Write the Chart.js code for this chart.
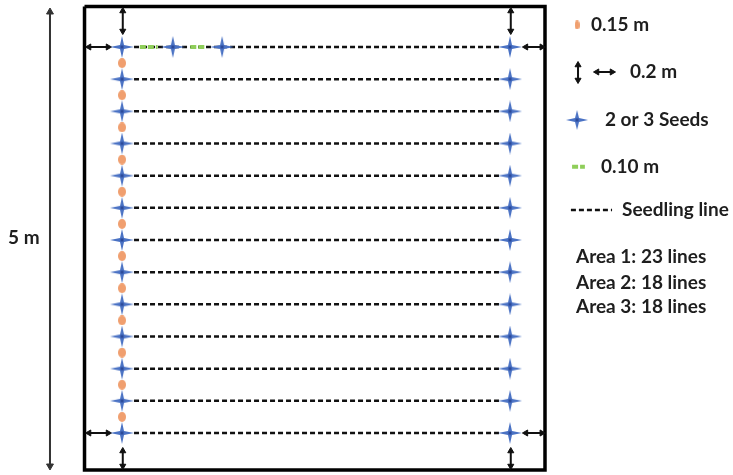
<!DOCTYPE html>
<html><head><meta charset="utf-8">
<script src="https://cdn.jsdelivr.net/npm/chart.js@4/dist/chart.umd.min.js"></script>
<style>html,body{margin:0;padding:0;background:#fff;}#wrap{width:733px;height:475px;}</style>
</head><body><div id="wrap"><canvas id="c" width="733" height="475"></canvas></div>
<script>
// ---- Data (x: fraction across plot between left and right seed columns; y: seedling row index) ----
const rowIndex = [0,1,2,3,4,5,6,7,8,9,10,11,12];
const seedColumns = [0, 1];
const firstRowExtraSeeds = [0.131, 0.258];
const orangeSpacingRows = [0.5,1.5,2.5,3.5,4.5,5.5,6.5,7.5,8.5,9.5,10.5,11.5];
const greenSpacingSegments = [[0.046,0.092],[0.176,0.216]];
const seedlingLineSpan = [0.031, 0.974];
const plotFrameX = [-0.0966, 1.0902];
const plotFrameY = [-1.259, 13.15];
const verticalMarginArrowsTop = [-1.119, -0.497];
const verticalMarginArrowsBottom = [12.56, 13.026];
const horizontalMarginArrowsLeft = [-0.085, -0.036];
const horizontalMarginArrowsRight = [1.041, 1.082];
const plotLengthArrow = {x: -0.1856, y: [-1.088, 13.026], label: '5 m'};
const legendLabels = ['0.15 m', '0.2 m', '2 or 3 Seeds', '0.10 m', 'Seedling line'];
const areaLabels = ['Area 1: 23 lines', 'Area 2: 18 lines', 'Area 3: 18 lines'];
const legendRows = [-0.684, 0.777, 2.269, 3.72, 5.067];
const areaRows = [6.519, 7.327, 8.073];

// ---- point styles ----
function starCanvas(w, h, color) {
  const c = document.createElement('canvas'); c.width = w; c.height = h;
  const g = c.getContext('2d'); const cx = w/2, cy = h/2;
  g.fillStyle = color; g.beginPath();
  g.moveTo(cx, 0); g.lineTo(cx+2, cy-2); g.lineTo(w, cy); g.lineTo(cx+2, cy+2);
  g.lineTo(cx, h); g.lineTo(cx-2, cy+2); g.lineTo(0, cy); g.lineTo(cx-2, cy-2); g.closePath(); g.fill();
  g.fillStyle = 'rgba(40,70,150,0.9)'; g.fillRect(cx-1.5, cy-1.5, 3, 3);
  return c;
}
function ellipseCanvas(w, h, color) {
  const c = document.createElement('canvas'); c.width = w; c.height = h;
  const g = c.getContext('2d'); g.fillStyle = color;
  g.beginPath(); g.ellipse(w/2, h/2, w/2, h/2, 0, 0, Math.PI*2); g.fill();
  return c;
}
const seedStar = starCanvas(24, 22, '#4a72c4');
const seedStarSmall = starCanvas(22, 20, '#4a72c4');
const orangeDot = ellipseCanvas(8, 10, 'rgba(236,135,75,0.8)');

// ---- build datasets ----
const datasets = [];
const seedPts = [];
rowIndex.forEach(r => seedColumns.forEach(u => seedPts.push({x: u, y: r})));
firstRowExtraSeeds.forEach(u => seedPts.push({x: u, y: rowIndex[0]}));
datasets.push({data: seedPts, pointStyle: seedStar, pointRadius: 11, showLine: false, order: 1});
datasets.push({data: [{x: 1.1727, y: legendRows[2]}], pointStyle: seedStarSmall, pointRadius: 10, showLine: false, order: 1});
datasets.push({data: orangeSpacingRows.map(r => ({x: seedColumns[0], y: r})), pointStyle: orangeDot, pointRadius: 5, showLine: false, order: 2});
datasets.push({data: [{x: 1.1727, y: legendRows[0]}], pointStyle: ellipseCanvas(5, 9, 'rgba(236,135,75,0.8)'), pointRadius: 5, showLine: false, order: 2});
greenSpacingSegments.forEach(s => datasets.push({data: [{x: s[0], y: rowIndex[0]}, {x: s[1], y: rowIndex[0]}], showLine: true, borderColor: '#8fce5a', borderWidth: 4, borderDash: [6, 2], pointRadius: 0, order: 3}));
datasets.push({data: [{x: 1.160, y: legendRows[3]}, {x: 1.193, y: legendRows[3]}], showLine: true, borderColor: '#8fce5a', borderWidth: 4, borderDash: [6, 2], pointRadius: 0, order: 3});
rowIndex.forEach(r => datasets.push({data: [{x: seedlingLineSpan[0], y: r}, {x: seedlingLineSpan[1], y: r}], showLine: true, borderColor: '#111', borderWidth: 2.5, borderDash: [5, 3], pointRadius: 0, order: 5}));
datasets.push({data: [{x: 1.157, y: legendRows[4]}, {x: 1.263, y: legendRows[4]}], showLine: true, borderColor: '#111', borderWidth: 2.5, borderDash: [5, 3], pointRadius: 0, order: 5});
datasets.push({data: [{x: plotFrameX[0], y: plotFrameY[0]}, {x: plotFrameX[1], y: plotFrameY[0]}, {x: plotFrameX[1], y: plotFrameY[1]}, {x: plotFrameX[0], y: plotFrameY[1]}, {x: plotFrameX[0], y: plotFrameY[0]}], showLine: true, borderColor: '#000', borderWidth: 3.5, pointRadius: 0, order: 6});
function arrow(x1, y1, x2, y2, vertical, color, w, rad) {
  datasets.push({data: [{x: x1, y: y1}, {x: x2, y: y2}], showLine: true, borderColor: color, borderWidth: w,
    pointStyle: 'triangle', pointRadius: rad, pointBackgroundColor: color, pointBorderColor: color, pointBorderWidth: 1,
    pointRotation: vertical ? [0, 180] : [270, 90], order: 4});
}
seedColumns.forEach(u => {
  arrow(u + 0.002, verticalMarginArrowsTop[0], u + 0.002, verticalMarginArrowsTop[1], true, '#111', 2, 3.5);
  arrow(u + 0.002, verticalMarginArrowsBottom[0], u + 0.002, verticalMarginArrowsBottom[1], true, '#111', 2, 3.5);
});
[rowIndex[0], rowIndex[rowIndex.length-1]].forEach(r => {
  arrow(horizontalMarginArrowsLeft[0], r, horizontalMarginArrowsLeft[1], r, false, '#111', 2, 3.5);
  arrow(horizontalMarginArrowsRight[0], r, horizontalMarginArrowsRight[1], r, false, '#111', 2, 3.5);
});
arrow(plotLengthArrow.x, plotLengthArrow.y[0], plotLengthArrow.x, plotLengthArrow.y[1], true, '#333', 2, 4);
arrow(1.1753, 0.56, 1.1753, 1.026, true, '#111', 2, 3.5);
arrow(1.2242, legendRows[1], 1.2629, legendRows[1], false, '#111', 2, 3.5);

const textItems = [
  {t: plotLengthArrow.label, x: -0.2938, y: 5.938},
  {t: legendLabels[0], x: 1.2088, y: legendRows[0]},
  {t: legendLabels[1], x: 1.3093, y: legendRows[1]},
  {t: legendLabels[2], x: 1.2448, y: legendRows[2]},
  {t: legendLabels[3], x: 1.2345, y: legendRows[3]},
  {t: legendLabels[4], x: 1.2887, y: legendRows[4]},
  {t: areaLabels[0], x: 1.170, y: areaRows[0]},
  {t: areaLabels[1], x: 1.170, y: areaRows[1]},
  {t: areaLabels[2], x: 1.170, y: areaRows[2]},
];
const textPlugin = {
  id: 'texts',
  afterDraw(chart) {
    const ctx = chart.ctx, xs = chart.scales.x, ys = chart.scales.y;
    ctx.save();
    ctx.font = 'bold 19px Lato, "Open Sans", sans-serif';
    ctx.fillStyle = '#1e1e1e'; ctx.textBaseline = 'middle'; ctx.textAlign = 'left';
    textItems.forEach(it => ctx.fillText(it.t, xs.getPixelForValue(it.x), ys.getPixelForValue(it.y)));
    ctx.restore();
  }
};

new Chart(document.getElementById('c'), {
  type: 'scatter',
  data: {datasets},
  options: {
    responsive: false, animation: false, events: [],
    layout: {padding: 0, autoPadding: false},
    plugins: {legend: {display: false}, tooltip: {enabled: false}},
    scales: {
      x: {type: 'linear', min: -0.314433, max: 1.574742, display: false},
      y: {type: 'linear', min: -1.46114, max: 13.3057, reverse: true, display: false}
    },
    elements: {line: {tension: 0}}
  },
  plugins: [textPlugin]
});
</script></body></html>
